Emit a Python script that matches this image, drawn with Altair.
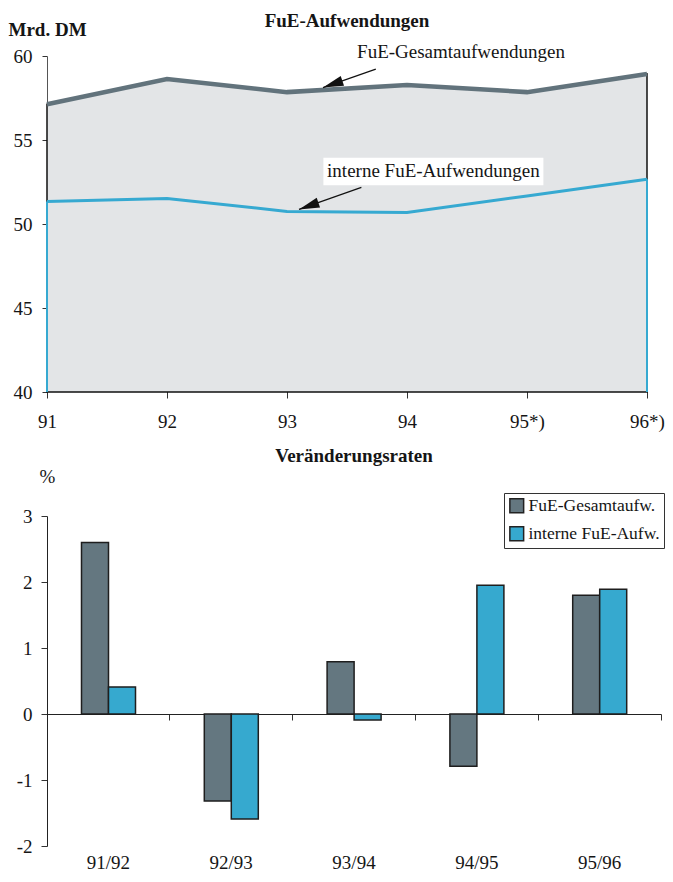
import altair as alt
import pandas as pd

# ---------------- data ----------------
years = [91, 92, 93, 94, 95, 96]
total = [57.13, 58.63, 57.85, 58.27, 57.85, 58.93]
internal = [51.34, 51.52, 50.75, 50.69, 51.67, 52.66]

periods = ["91/92", "92/93", "93/94", "94/95", "95/96"]
rate_total = [2.6, -1.32, 0.79, -0.79, 1.8]
rate_internal = [0.41, -1.59, -0.09, 1.95, 1.89]
series = ["FuE-Gesamtaufw.", "interne FuE-Aufw."]

ann_text = ["FuE-Gesamtaufwendungen", "interne FuE-Aufwendungen"]
ann_x = [94.45, 94.22]
ann_y = [60.25, 53.13]
ann_box = [0, 1]
arrow_from_x = [93.74, 93.62]
arrow_from_y = [59.22, 52.18]
arrow_to_x = [93.30, 93.10]
arrow_to_y = [58.12, 50.87]

# ---------------- style ----------------
FONT = "Liberation Serif"
FS = 19
TXT = "#151515"
GRAY_LINE = "#62737c"
BLUE_LINE = "#36a9d1"
FILL = "#e3e5e7"
GRAY_BAR = "#647780"
BLUE_BAR = "#36a9cf"

top_df = pd.DataFrame({"year": years, "total": total, "internal": internal})
edge_df = top_df.iloc[[0, len(years) - 1]]
ann_df = pd.DataFrame({
    "text": ann_text, "x": ann_x, "y": ann_y, "box": ann_box,
    "x1": arrow_from_x, "y1": arrow_from_y, "x2": arrow_to_x, "y2": arrow_to_y,
})

xs = alt.Scale(domain=[91, 96], nice=False, zero=False)
ys = alt.Scale(domain=[40, 60], nice=False, zero=False)

x_axis = alt.Axis(
    values=years,
    labelExpr="datum.value >= 95 ? datum.value + '*)' : '' + datum.value",
    title=None, grid=False, domain=False, offset=-6, tickSize=12,
    tickColor="#333", tickWidth=1, labelPadding=14, labelFont=FONT,
    labelFontSize=FS, labelColor=TXT, labelFlush=False, labelOverlap=False,
)
y_axis = alt.Axis(
    values=[40, 45, 50, 55, 60], title="Mrd. DM", titleAngle=0,
    titleAlign="left", titleBaseline="alphabetic", titleX=-39, titleY=-21,
    titleFont=FONT, titleFontSize=FS, titleFontWeight="bold", titleColor=TXT,
    grid=False, tickSize=5, labelPadding=10, domainColor="#555",
    tickColor="#333", labelFont=FONT, labelFontSize=FS, labelColor=TXT,
    labelFlush=False,
)

base = alt.Chart(top_df)
area = base.mark_area(color=FILL, stroke="#111", strokeWidth=1.5).encode(
    x=alt.X("year:Q", scale=xs, axis=x_axis),
    y=alt.Y("total:Q", scale=ys, axis=y_axis),
    y2=alt.datum(40),
)
edges = alt.Chart(edge_df).mark_rule(color=BLUE_LINE, strokeWidth=2).encode(
    x="year:Q", y="internal:Q", y2=alt.datum(40)
)
total_line = base.mark_line(color=GRAY_LINE, strokeWidth=4.5).encode(
    x="year:Q", y="total:Q"
)
int_line = base.mark_line(color=BLUE_LINE, strokeWidth=3).encode(
    x="year:Q", y="internal:Q"
)
ann = alt.Chart(ann_df)
box = ann.transform_filter("datum.box == 1").mark_point(
    shape="M-4,-0.5L4,-0.5L4,0.5L-4,0.5Z", size=3025, filled=True,
    fill="white", opacity=1, strokeWidth=0,
).encode(x="x:Q", y="y:Q")
shafts = ann.mark_rule(color="#111", strokeWidth=1.2).encode(
    x="x1:Q", y="y1:Q", x2="x2:Q", y2="y2:Q"
)
heads = ann.mark_point(
    shape="M0,0L0.5,2L-0.5,2Z", size=420, filled=True, color="#111",
    opacity=1, angle=251,
).encode(x="x2:Q", y="y2:Q")
texts = ann.mark_text(
    font=FONT, fontSize=FS, color=TXT, align="center", baseline="middle"
).encode(x="x:Q", y="y:Q", text="text:N")

top = alt.layer(area, edges, total_line, int_line, box, shafts, heads, texts).properties(
    width=600, height=336,
    title=alt.TitleParams("FuE-Aufwendungen", font=FONT, fontSize=FS,
                          fontWeight="bold", color=TXT, anchor="middle", offset=-11),
)

# ---------------- bottom ----------------
rates_df = pd.DataFrame({
    "period": periods * 2,
    "series": [series[0]] * len(periods) + [series[1]] * len(periods),
    "value": rate_total + rate_internal,
})

bars = alt.Chart(rates_df).mark_bar(stroke="#1e1e1e", strokeWidth=1.5).encode(
    x=alt.X("period:N", sort=periods,
            scale=alt.Scale(paddingInner=0, paddingOuter=0),
            axis=alt.Axis(title=None, labelAngle=0, offset=-132, bandPosition=1,
                          tickSize=6, labelPadding=133, domainColor="#222",
                          tickColor="#333", labelFont=FONT, labelFontSize=FS,
                          labelColor=TXT)),
    xOffset=alt.XOffset("series:N", sort=series,
                        scale=alt.Scale(paddingInner=0, paddingOuter=0,
                                        range=[34.5, 88.5])),
    y=alt.Y("value:Q", scale=alt.Scale(domain=[-2, 3], nice=False),
            axis=alt.Axis(values=[-2, -1, 0, 1, 2, 3], labelExpr="'' + datum.value",
                          title="%", titleAngle=0, titleAlign="left",
                          titleBaseline="alphabetic", titleX=-8, titleY=-34,
                          titleFont=FONT, titleFontSize=FS, titleFontWeight="normal",
                          titleColor=TXT, grid=False, tickSize=6, labelPadding=9,
                          domainColor="#222", tickColor="#333", labelFont=FONT,
                          labelFontSize=FS, labelColor=TXT, labelFlush=False)),
    color=alt.Color("series:N", sort=series,
                    scale=alt.Scale(domain=series, range=[GRAY_BAR, BLUE_BAR]),
                    legend=alt.Legend(title=None, orient="none", legendX=457, legendY=-23,
                                      strokeColor="#333", fillColor="white", padding=4,
                                      symbolType="square", symbolSize=190,
                                      symbolStrokeColor="#222", symbolStrokeWidth=1.5,
                                      labelFont=FONT, labelFontSize=17.5, labelColor=TXT,
                                      rowPadding=7, labelOffset=3)),
)

bottom = bars.properties(
    width=614, height=330,
    title=alt.TitleParams("Veränderungsraten", font=FONT, fontSize=FS,
                          fontWeight="bold", color=TXT, anchor="middle", offset=1),
)

chart = (
    alt.vconcat(top, bottom, spacing=124, bounds="flush")
    .resolve_legend(color="independent")
    .configure_view(stroke=None)
    .configure_axis(labelFont=FONT, titleFont=FONT)
    .configure_legend(labelFont=FONT)
    .configure_text(font=FONT)
    .properties(padding={"left": 0, "top": 4, "right": 0, "bottom": 0})
)

chart.save("out.html", embed_options={"renderer": "svg", "actions": False})
